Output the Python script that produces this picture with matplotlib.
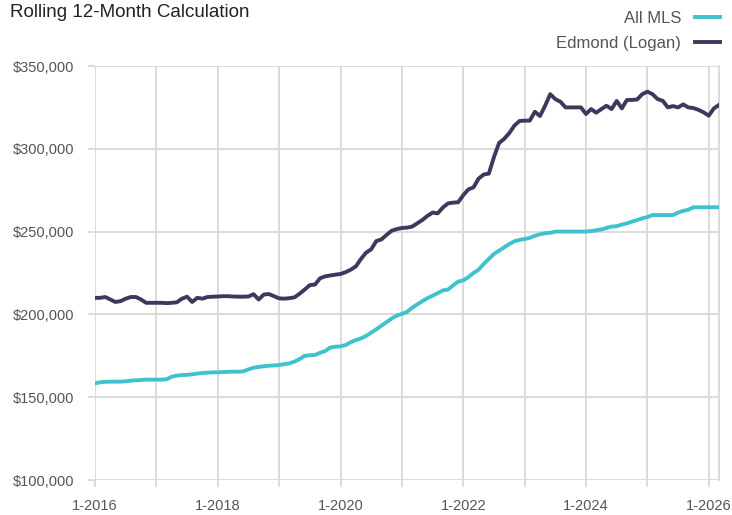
import matplotlib
matplotlib.use('Agg')
import matplotlib.pyplot as plt
from matplotlib.ticker import FuncFormatter, FixedLocator

plt.rcParams['font.family'] = ['Liberation Sans', 'DejaVu Sans']

# monthly rolling 12-month values, 1-2016 .. 3-2026 (in $1000s)
all_mls = [158.4, 159, 159.3, 159.4, 159.4, 159.4, 159.6, 160, 160.2, 160.4, 160.6, 160.6,
           160.6, 160.6, 160.8, 162.4, 163, 163.4, 163.5, 163.8, 164.3, 164.6, 164.8, 165,
           165, 165.2, 165.3, 165.4, 165.4, 165.6, 166.8, 167.8, 168.3, 168.7, 169, 169.2,
           169.4, 170, 170.4, 171.5, 173, 175, 175.3, 175.5, 176.8, 177.9, 180, 180.5,
           180.7, 181.5, 183.2, 184.5, 185.5, 187, 189, 191, 193.2, 195.3, 197.5, 199.3,
           200.3, 201.5, 204, 206, 208, 209.8, 211.3, 212.8, 214.5, 215, 217.5, 219.8,
           220.5, 222.5, 225, 227, 230.5, 233.5, 236.5, 238.5, 240.5, 242.5, 244.2, 245,
           245.5, 246.2, 247.5, 248.4, 249, 249.3, 250, 250, 250, 250, 250, 250,
           250, 250.3, 250.8, 251.3, 252.2, 253, 253.3, 254.2, 255, 256, 257, 258,
           258.8, 260, 260, 260, 260, 260, 261.5, 262.5, 263.2, 264.7, 264.7, 264.7,
           264.7, 264.7, 264.7]
edmond = [210, 210, 210.5, 209, 207.5, 208, 209.5, 210.5, 210.5, 209, 207, 207,
          207, 207, 206.8, 207, 207.3, 209.5, 210.7, 207.5, 210, 209.5, 210.5, 210.7,
          210.8, 211, 211, 210.8, 210.7, 210.7, 210.8, 212.2, 209, 212, 212.3, 211,
          209.7, 209.5, 209.8, 210.3, 212.5, 215, 217.7, 218, 221.8, 223, 223.5, 224,
          224.4, 225.5, 227, 229, 233.5, 237.3, 239.3, 244.3, 245.3, 248, 250.5, 251.5,
          252.2, 252.4, 253, 255, 257, 259.5, 261.5, 261, 264.5, 267, 267.5, 267.7,
          272, 275.5, 276.7, 282, 284.5, 285, 295, 303.5, 306, 309.5, 314, 316.8,
          317, 317, 322.4, 319.8, 326, 333, 330, 328.4, 325, 325, 325, 325,
          321, 324, 321.8, 324, 326, 324, 328.9, 324.4, 329.5, 329.5, 329.8, 333,
          334.5, 333, 330, 329, 325, 325.8, 325, 326.8, 325, 324.6, 323.5, 322,
          320, 324.4, 326.5]
years = list(range(2016, 2027))

months = list(range(len(edmond)))
grid_c = '#d9d9d9'
text_c = '#555555'

fig = plt.figure(figsize=(7.32, 5.15), dpi=100)
ax = fig.add_axes([95/732, 35/515, 624/732, 414/515])

ax.plot(months, [v*1000 for v in all_mls], color='#3ec3cd', lw=2.8, label='All MLS',
        solid_joinstyle='round', zorder=3)
ax.plot(months, [v*1000 for v in edmond], color='#3a3b5c', lw=2.8, label='Edmond (Logan)',
        solid_joinstyle='round', zorder=3)

ax.set_xlim(0, len(edmond) - 1)
ax.set_ylim(100000, 350000)
ax.set_yticks(range(100000, 350001, 50000))
ax.yaxis.set_major_formatter(FuncFormatter(lambda v, p: '${:,.0f}'.format(v)))
ax.xaxis.set_major_locator(FixedLocator([(y - 2016)*12 for y in years]))
ax.set_xticklabels(['1-%d' % y if (y - 2016) % 2 == 0 else '' for y in years])

ax.grid(True, color=grid_c, lw=1.3, zorder=0)
for s in ['top', 'left', 'bottom']:
    ax.spines[s].set_visible(False)
ax.spines['right'].set_color(grid_c)
ax.spines['right'].set_linewidth(1.3)
ax.tick_params(axis='both', colors=grid_c, width=1.3, length=5, labelcolor=text_c,
               labelsize=10.5)
ax.tick_params(axis='y', pad=10)
ax.tick_params(axis='x', pad=9)

fig.text(10/732, 1 - 4/515, 'Rolling 12-Month Calculation', fontsize=13.5, color='#222222',
         ha='left', va='top')

leg = fig.legend(loc='upper right', bbox_to_anchor=(727/732, 1 - 4/515), frameon=False,
                 markerfirst=False, fontsize=12, handlelength=1.55, handletextpad=0.8,
                 labelspacing=0.62, borderaxespad=0)
for t in leg.get_texts():
    t.set_color(text_c)

fig.savefig('out.png', dpi=100)
